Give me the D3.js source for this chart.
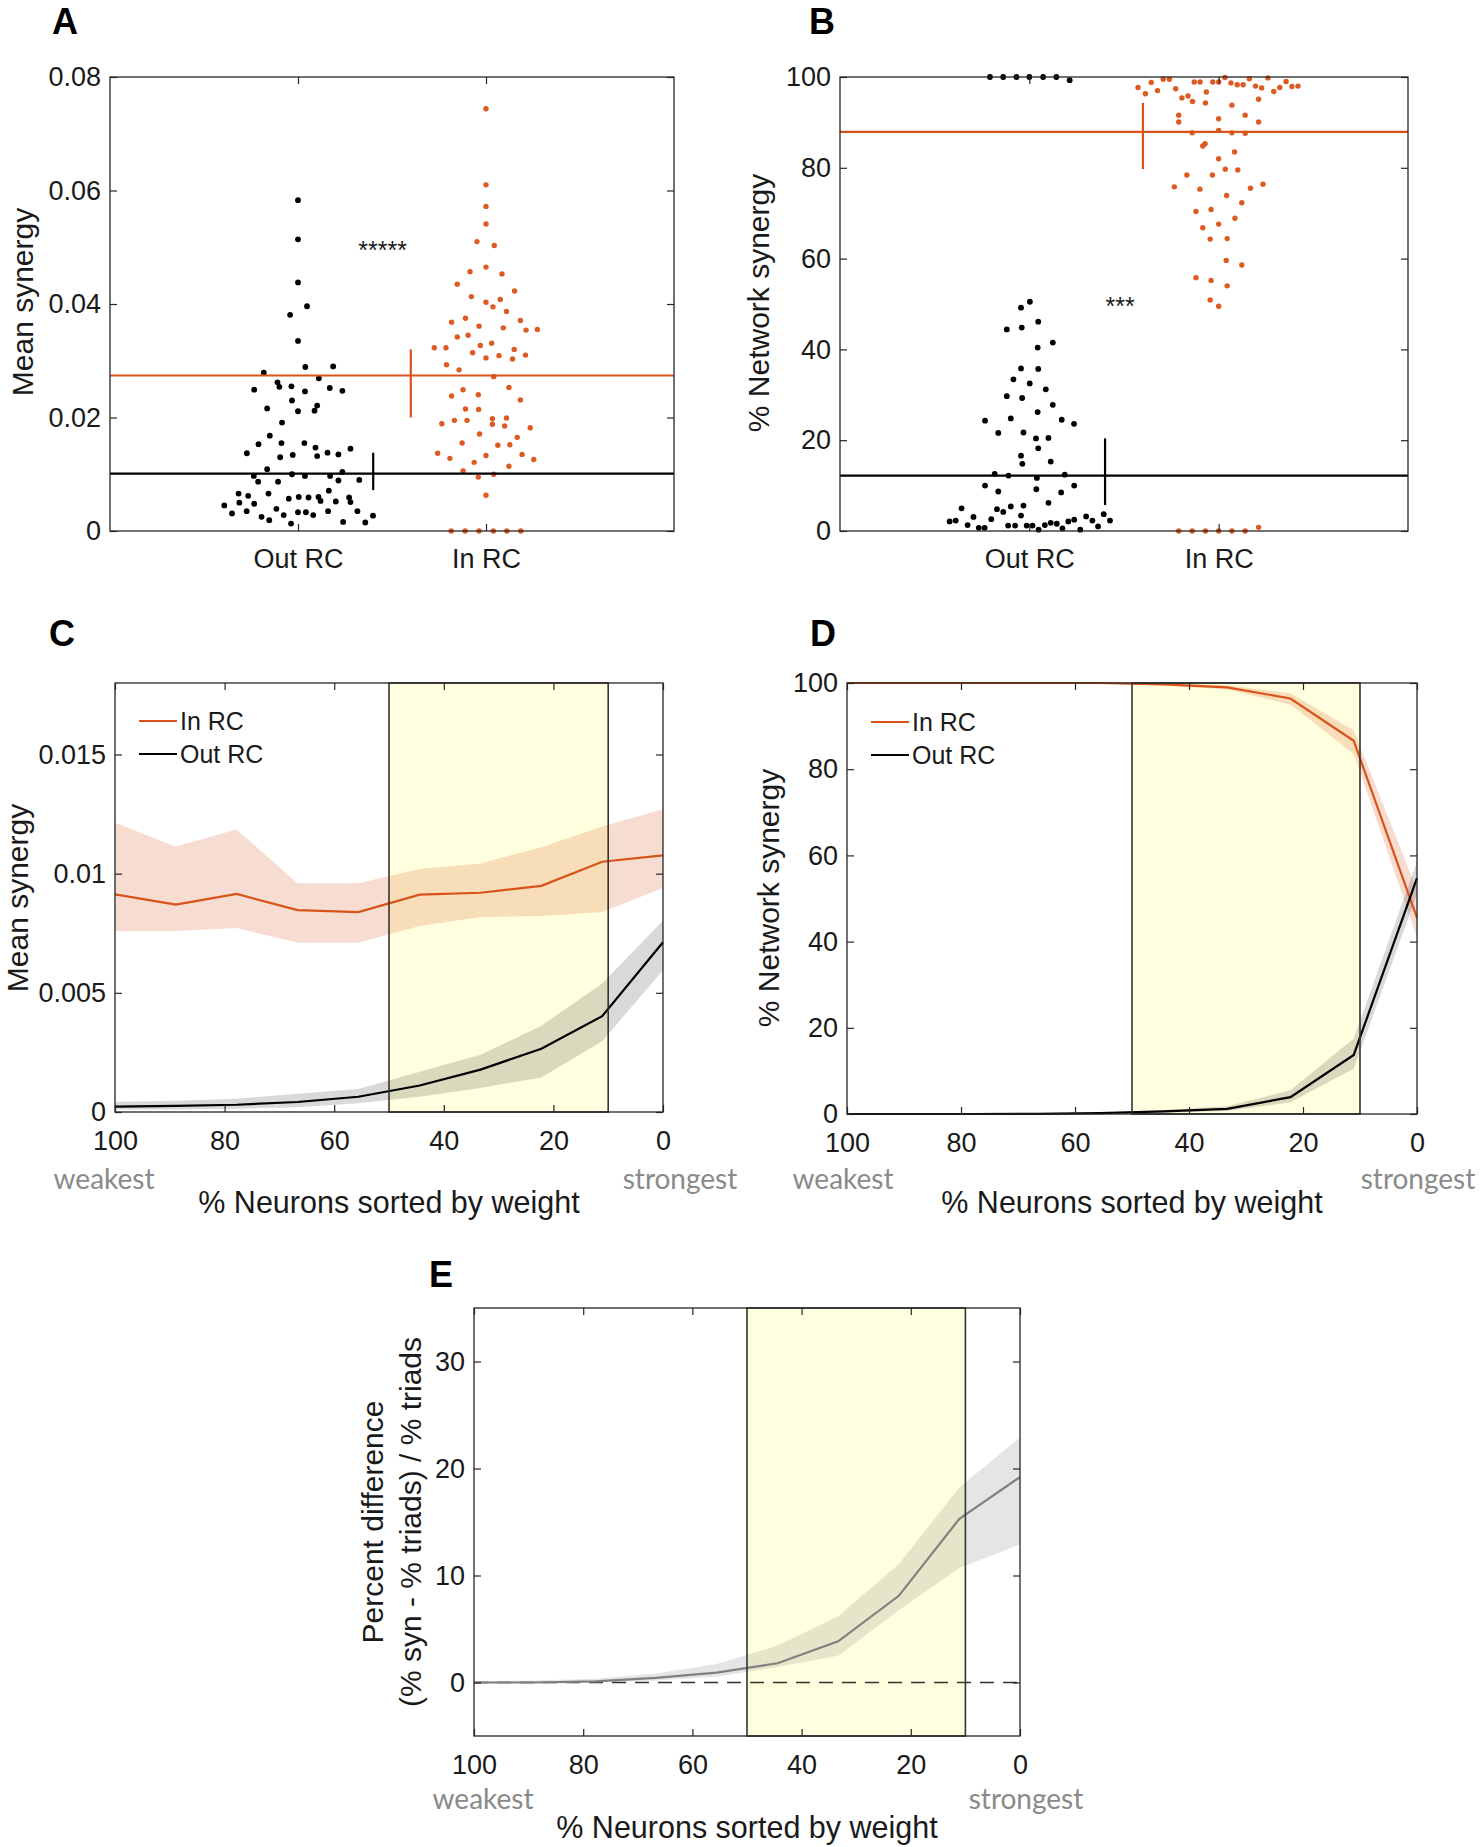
<!DOCTYPE html>
<html><head><meta charset="utf-8">
<script src="https://cdn.jsdelivr.net/npm/d3@7"></script>
<style>
body{margin:0;background:#fff}
svg{display:block}
</style>
</head><body>
<svg id="chart" width="1482" height="1847"></svg>
<script>
// ---------------- DATA ----------------
const catLabels = ["Out RC", "In RC"];
// Panel A: [jitter offset, mean synergy]
const aOut = [[0,0.0583],[0,0.0514],[0,0.0438],[0.048,0.0396],[-0.042,0.0381],[0,0.0335],[0.039,0.0289],[0.187,0.0290],
[-0.182,0.0279],[0.111,0.0269],[-0.109,0.0262],[-0.099,0.0254],[-0.035,0.0255],[-0.233,0.0249],[0.037,0.0246],[0.169,0.0252],
[0.236,0.0247],[-0.032,0.0230],[0.102,0.0221],[-0.164,0.0216],[0.088,0.0212],[0,0.0211],[-0.085,0.0191],[-0.150,0.0168],
[-0.210,0.0153],[-0.088,0.0155],[0.034,0.0155],[0.093,0.0147],[0.279,0.0145],[-0.272,0.0137],[-0.095,0.0130],[-0.028,0.0134],
[0.102,0.0132],[0.157,0.0138],[0.215,0.0135],[-0.164,0.0109],[-0.235,0.0097],[-0.212,0.0087],[-0.106,0.0087],[-0.032,0.0100],
[0.037,0.0097],[0.171,0.0097],[0.236,0.0104],[0.215,0.0089],[0.326,0.0090],[-0.316,0.0066],[-0.265,0.0062],[-0.157,0.0066],
[0.164,0.0071],[-0.312,0.0050],[-0.233,0.0048],[-0.049,0.0057],[0.004,0.0060],[0.056,0.0059],[0.109,0.0060],[0.120,0.0053],
[0.201,0.0052],[0.272,0.0059],[0.279,0.0051],[-0.392,0.0045],[-0.351,0.0031],[-0.273,0.0035],[-0.115,0.0039],[0,0.0033],
[0.042,0.0033],[0.081,0.0028],[0.160,0.0035],[0.316,0.0035],[-0.194,0.0025],[-0.153,0.0019],[-0.076,0.0028],[-0.037,0.0013],
[0.240,0.0016],[0.358,0.0015],[0.399,0.0027]];
const aIn = [[0,0.0744],[0,0.0610],[0,0.0572],[0,0.0541],[-0.048,0.0510],[0.044,0.0503],[0,0.0465],[-0.085,0.0457],[0.085,0.0453],
[-0.153,0.0435],[0.152,0.0423],[-0.078,0.0413],[0,0.0403],[0.076,0.0408],[0.037,0.0395],[0.109,0.0387],[-0.109,0.0375],
[-0.183,0.0368],[-0.037,0.0361],[0.183,0.0371],[0.092,0.0358],[0.213,0.0354],[0.273,0.0355],[-0.153,0.0342],[-0.095,0.0345],
[-0.030,0.0327],[0.030,0.0331],[-0.275,0.0323],[-0.213,0.0323],[-0.071,0.0314],[0,0.0305],[0.069,0.0309],[0.141,0.0303],
[0.150,0.0320],[0.210,0.0310],[-0.210,0.0293],[-0.143,0.0284],[0.041,0.0272],[-0.122,0.0249],[-0.041,0.0240],[0.122,0.0253],
[-0.183,0.0238],[0.183,0.0231],[-0.109,0.0215],[-0.039,0.0214],[-0.235,0.0189],[-0.168,0.0195],[-0.101,0.0195],[0.034,0.0198],
[0.034,0.0188],[0.099,0.0185],[0.109,0.0199],[0.235,0.0182],[-0.034,0.0171],[0.166,0.0165],[-0.127,0.0155],[0.063,0.0151],
[0.127,0.0152],[-0.257,0.0137],[-0.192,0.0128],[0,0.0133],[0.192,0.0135],[0.254,0.0126],[-0.063,0.0121],[0.122,0.0114],
[-0.122,0.0106],[-0.041,0.0095],[0.041,0.0100],[0,0.0063],
[-0.185,0],[-0.111,0],[-0.037,0],[0.039,0],[0.111,0],[0.185,0]];
const aMean = [0.0101, 0.0274];
const aErrLo = [0.0072, 0.0200];
const aErrHi = [0.0138, 0.0320];
const aErrX = [1.40, 1.60];
const aSig = {x: 1.45, y: 0.0504, text: "*****"};

// Panel B: [jitter offset, % network synergy]
const bOut = [[-0.208,100],[-0.138,100],[-0.068,100],[0,100],[0.073,100],[0.143,100],[0.213,99.3],
[0.003,50.5],[-0.044,49.2],[0.047,46.1],[-0.119,44.4],[-0.040,44.8],[0.124,41.5],[0.044,40.4],[-0.044,35.8],[0.047,35.7],
[-0.084,33.4],[0.002,32.5],[0.087,31.2],[-0.119,29.7],[-0.038,29.3],[0.124,27.8],[0.044,26.2],[-0.234,24.3],[-0.098,24.8],
[0.171,24.5],[0.236,23.6],[-0.164,21.6],[-0.031,21.7],[0.035,20.4],[0.101,20.5],[0.047,18.2],[-0.044,16.6],[-0.037,14.8],
[0.113,15.3],[-0.183,12.6],[-0.110,12.2],[0.040,11.7],[0.187,12.4],[-0.234,10.0],[-0.164,8.7],[0.037,9.2],[0.168,8.5],
[0.237,10.0],[0.101,6.2],[-0.358,5.0],[-0.171,4.8],[-0.138,4.2],[-0.098,5.4],[-0.031,5.6],[-0.295,3.1],[-0.201,2.6],
[-0.044,3.4],[0.300,3.2],[0.333,2.3],[0.393,3.7],[0.426,2.3],[-0.421,2.1],[-0.389,2.3],[-0.326,1.3],[-0.267,0.7],
[-0.236,0.7],[-0.112,1.2],[-0.075,1.2],[-0.014,1.2],[0.017,1.2],[0.049,0.3],[0.082,1.3],[0.113,1.8],[0.145,1.6],
[0.175,0.6],[0.206,2.1],[0.237,2.5],[0.269,0.3],[0.363,1.0]];
const bIn = [[-0.426,97.7],[-0.387,96.3],[-0.356,98.8],[-0.323,97.0],[-0.293,99.5],[-0.260,99.5],[-0.227,97.4],[-0.129,98.9],
[-0.098,98.9],[-0.065,96.7],[-0.031,98.9],[0,98.9],[0.033,99.9],[0.065,98.7],[0.098,98.3],[0.129,98.3],[0.162,99.6],
[0.195,98.0],[0.227,97.6],[0.260,99.8],[0.291,96.8],[0.323,97.7],[0.356,99.0],[0.387,97.9],[0.419,98.0],[-0.194,95.4],
[-0.162,95.8],[-0.138,94.6],[-0.070,94.3],[0.070,93.8],[0.211,95.1],[-0.211,91.6],[-0.211,90.1],[0,90.8],[0.140,91.6],
[0.211,90.1],[-0.140,87.7],[0,88.2],[0.070,87.7],[0.140,87.6],[-0.084,84.8],[-0.072,85.3],[0.084,83.5],[0,82.0],
[0.035,79.7],[0.101,79.5],[-0.168,78.4],[-0.033,78.4],[-0.234,75.8],[-0.099,75.3],[0.168,75.5],[0.234,76.4],[0.042,73.9],
[0.122,72.3],[-0.120,70.4],[-0.040,70.8],[0.086,68.9],[0,67.6],[-0.084,66.8],[-0.045,64.3],[0.045,64.4],[0.040,59.6],
[0.122,58.6],[-0.120,55.8],[-0.040,55.2],[0.045,54.0],[-0.045,50.9],[0,49.5],
[-0.211,0],[-0.140,0],[-0.070,0],[0,0],[0.070,0],[0.140,0],[0.211,0.8]];
const bMean = [12.2, 87.9];
const bErrLo = [5.7, 79.7];
const bErrHi = [20.4, 94.3];
const bErrX = [1.40, 1.60];
const bSig = {x: 1.48, y: 50.6, text: "***"};

// Panels C-E: % neurons sorted by weight
const pct = [100, 88.9, 77.8, 66.7, 55.6, 44.4, 33.3, 22.2, 11.1, 0];
const cIn    = [0.00913,0.00870,0.00915,0.00847,0.00839,0.00912,0.00920,0.00949,0.01050,0.01077];
const cInLo  = [0.00759,0.00759,0.00772,0.00710,0.00710,0.00780,0.00818,0.00822,0.00839,0.00940];
const cInHi  = [0.01214,0.01114,0.01185,0.00960,0.00960,0.01020,0.01043,0.01111,0.01198,0.01270];
const cOut   = [0.000225,0.000257,0.000305,0.00042,0.00064,0.00111,0.00178,0.00265,0.00402,0.00712];
const cOutLo = [0.00010,0.00010,0.00014,0.00020,0.00037,0.00064,0.00101,0.00145,0.00297,0.00595];
const cOutHi = [0.00043,0.00047,0.00056,0.00077,0.00096,0.00169,0.00240,0.00362,0.00539,0.00804];

const dIn    = [100,100,100,100,100,99.7,99.0,96.4,86.6,45.5];
const dInLo  = [100,100,100,100,99.9,99.4,98.5,95.0,83.5,41.0];
const dInHi  = [100,100,100,100,100,100,99.5,97.6,89.0,52.0];
const dOut   = [0,0,0,0.05,0.2,0.6,1.2,3.9,13.7,54.7];
const dOutLo = [0,0,0,0,0.05,0.3,0.7,2.7,10.5,51.0];
const dOutHi = [0.05,0.05,0.1,0.15,0.35,0.9,1.8,5.5,17.5,58.5];

const eDiff = [0,0,0.1,0.43,0.93,1.8,3.85,8.1,15.3,19.2];
const eLo   = [-0.07,-0.07,0,0.18,0.54,1.44,2.5,6.75,10.7,12.9];
const eHi   = [0.14,0.18,0.36,0.83,1.72,3.45,6.2,11.07,18.25,22.9];

const highlight = [50, 10];
const xTicksPct = [100, 80, 60, 40, 20, 0];
const yTicksA = [0, 0.02, 0.04, 0.06, 0.08];
const yTicksB = [0, 20, 40, 60, 80, 100];
const yTicksC = [0, 0.005, 0.01, 0.015];
const yTicksD = [0, 20, 40, 60, 80, 100];
const yTicksE = [0, 10, 20, 30];
const legendLabels = ["In RC", "Out RC"];

// ---------------- STYLE ----------------
const ORANGE = "#d95319";
const AX = "#262626";
const SANS = "'Liberation Sans', Arial, sans-serif";
const HUM = "Lato, 'Open Sans', sans-serif";
const svg = d3.select("#chart");

function axes(box, x, y, xt, xfmt, yt, xpad) {
  const g = svg.append("g");
  const left = d3.axisLeft(y).tickValues(yt).tickFormat(d => String(d)).tickSize(-7).tickPadding(9);
  const right = d3.axisRight(y).tickValues(yt).tickFormat("").tickSize(-7);
  const bottom = d3.axisBottom(x).tickValues(xt).tickFormat(xfmt).tickSize(-7).tickPadding(xpad);
  const top = d3.axisTop(x).tickValues(xt).tickFormat("").tickSize(-7);
  g.append("g").attr("transform", `translate(${box.L},0)`).call(left);
  g.append("g").attr("transform", `translate(${box.R},0)`).call(right);
  g.append("g").attr("transform", `translate(0,${box.B})`).call(bottom);
  g.append("g").attr("transform", `translate(0,${box.T})`).call(top);
  g.selectAll(".domain").remove();
  g.selectAll(".tick line").attr("stroke", AX).attr("stroke-width", 1.2);
  g.selectAll(".tick text").attr("font-size", 27).attr("font-family", SANS).attr("fill", "#1a1a1a");
  g.append("rect").attr("x", box.L).attr("y", box.T).attr("width", box.R - box.L).attr("height", box.B - box.T)
    .attr("fill", "none").attr("stroke", AX).attr("stroke-width", 1.3);
}
function yLabel(cx, cy, text, size) {
  svg.append("text").attr("transform", `translate(${cx},${cy}) rotate(-90)`).attr("text-anchor", "middle")
    .attr("dy", "0.35em").attr("font-size", size || 30).attr("font-family", SANS).attr("fill", "#1a1a1a").text(text);
}
function letter(x, y, t) {
  svg.append("text").attr("x", x).attr("y", y).attr("text-anchor", "middle").attr("font-size", 36)
    .attr("font-weight", "bold").attr("font-family", SANS).attr("fill", "#000").text(t);
}
function xLabelPct(box, base, wbase, wOff, sOff) {
  svg.append("text").attr("x", (box.L + box.R) / 2).attr("y", base).attr("text-anchor", "middle")
    .attr("font-size", 30.5).attr("font-family", SANS).attr("fill", "#1a1a1a").text("% Neurons sorted by weight");
  svg.append("text").attr("x", box.L + wOff).attr("y", wbase).attr("text-anchor", "middle")
    .attr("font-size", 28).attr("font-family", HUM).attr("fill", "#8a8a8a").text("weakest");
  svg.append("text").attr("x", box.R + sOff).attr("y", wbase).attr("text-anchor", "middle")
    .attr("font-size", 28).attr("font-family", HUM).attr("fill", "#8a8a8a").text("strongest");
}

// ---------------- SCATTER PANELS (A, B) ----------------
function scatterPanel(box, yDom, yt, outPts, inPts, mean, lo, hi, errX, sig) {
  const x = d3.scaleLinear().domain([0, 3]).range([box.L, box.R]);
  const y = d3.scaleLinear().domain(yDom).range([box.B, box.T]);
  const g = svg.append("g");
  g.selectAll("circle.o").data(outPts).join("circle").attr("cx", d => x(1 + d[0])).attr("cy", d => y(d[1]))
    .attr("r", 2.9).attr("fill", "#000");
  g.selectAll("circle.i").data(inPts).join("circle").attr("cx", d => x(2 + d[0])).attr("cy", d => y(d[1]))
    .attr("r", 2.7).attr("fill", "#dd5a22");
  const cols = ["#000", ORANGE];
  [0, 1].forEach(i => {
    g.append("line").attr("x1", box.L).attr("x2", box.R).attr("y1", y(mean[i])).attr("y2", y(mean[i]))
      .attr("stroke", cols[i]).attr("stroke-width", 2.2);
    g.append("line").attr("x1", x(errX[i])).attr("x2", x(errX[i])).attr("y1", y(lo[i])).attr("y2", y(hi[i]))
      .attr("stroke", cols[i]).attr("stroke-width", 2.2);
  });
  g.append("text").attr("x", x(sig.x)).attr("y", y(sig.y) + 14).attr("text-anchor", "middle")
    .attr("font-size", 25).attr("font-family", SANS).attr("fill", "#1a1a1a").text(sig.text);
  axes(box, x, y, [1, 2], (d, i) => catLabels[i], yt, 18);
}
const boxA = {L: 110, R: 674, T: 77, B: 531};
const boxB = {L: 840, R: 1408, T: 77, B: 531};
scatterPanel(boxA, [0, 0.08], yTicksA, aOut, aIn, aMean, aErrLo, aErrHi, aErrX, aSig);
scatterPanel(boxB, [0, 100], yTicksB, bOut, bIn, bMean, bErrLo, bErrHi, bErrX, bSig);
yLabel(22, 302, "Mean synergy");
yLabel(758, 303, "% Network synergy");
letter(65, 34, "A");
letter(822, 34, "B");

// ---------------- LINE PANELS (C, D, E) ----------------
function linePanel(box, yDom, series) {
  const x = d3.scaleLinear().domain([100, 0]).range([box.L, box.R]);
  const y = d3.scaleLinear().domain(yDom).range([box.B, box.T]);
  const g = svg.append("g");
  g.append("rect").attr("x", x(highlight[0])).attr("y", box.T).attr("width", x(highlight[1]) - x(highlight[0]))
    .attr("height", box.B - box.T).attr("fill", "#ffffe0");
  series.forEach(s => {
    const area = d3.area().x((d, i) => x(pct[i])).y0((d, i) => y(s.lo[i])).y1((d, i) => y(s.hi[i]));
    g.append("path").datum(s.mean).attr("d", area).attr("fill", s.band);
  });
  return {x, y, g};
}
function finishLines(p, box, series, yt, xpad) {
  series.forEach(s => {
    const line = d3.line().x((d, i) => p.x(pct[i])).y(d => p.y(d));
    p.g.append("path").datum(s.mean).attr("d", line).attr("fill", "none").attr("stroke", s.color).attr("stroke-width", 2.2);
  });
  p.g.append("rect").attr("x", p.x(highlight[0])).attr("y", box.T).attr("width", p.x(highlight[1]) - p.x(highlight[0]))
    .attr("height", box.B - box.T).attr("fill", "none").attr("stroke", "#333").attr("stroke-width", 1.6);
  axes(box, p.x, p.y, xTicksPct, d => String(d), yt, xpad);
}
function legendBlock(x0, y0) {
  const cols = [ORANGE, "#000"];
  legendLabels.forEach((t, i) => {
    const yy = y0 + i * 33;
    svg.append("line").attr("x1", x0).attr("x2", x0 + 38).attr("y1", yy).attr("y2", yy).attr("stroke", cols[i]).attr("stroke-width", 2.2);
    svg.append("text").attr("x", x0 + 41).attr("y", yy + 9).attr("font-size", 25).attr("font-family", SANS)
      .attr("fill", "#1a1a1a").text(t);
  });
}

// C
const boxC = {L: 115, R: 663, T: 683, B: 1112};
const serC = [
  {mean: cIn, lo: cInLo, hi: cInHi, color: ORANGE, band: "rgba(217,83,25,0.2)"},
  {mean: cOut, lo: cOutLo, hi: cOutHi, color: "#000", band: "rgba(0,0,0,0.15)"}];
const pC = linePanel(boxC, [0, 0.018], serC);
finishLines(pC, boxC, serC, yTicksC, 19);
legendBlock(139, 721);
yLabel(17, 898, "Mean synergy");
xLabelPct(boxC, 1213, 1189, -11, 17);
letter(62, 646, "C");

// D
const boxD = {L: 847, R: 1417, T: 683, B: 1114};
const serD = [
  {mean: dIn, lo: dInLo, hi: dInHi, color: ORANGE, band: "rgba(217,83,25,0.2)"},
  {mean: dOut, lo: dOutLo, hi: dOutHi, color: "#000", band: "rgba(0,0,0,0.15)"}];
const pD = linePanel(boxD, [0, 100], serD);
finishLines(pD, boxD, serD, yTicksD, 19);
legendBlock(871, 722);
yLabel(768, 898, "% Network synergy");
xLabelPct(boxD, 1213, 1189, -4, 1);
letter(823, 646, "D");

// E
const boxE = {L: 474, R: 1020, T: 1308, B: 1736};
const serE = [{mean: eDiff, lo: eLo, hi: eHi, color: "#808080", band: "rgba(0,0,0,0.1)"}];
const pE = linePanel(boxE, [-5, 35], serE);
pE.g.append("line").attr("x1", boxE.L).attr("x2", boxE.R).attr("y1", pE.y(0)).attr("y2", pE.y(0))
  .attr("stroke", "#333").attr("stroke-width", 1.6).attr("stroke-dasharray", "14,9");
finishLines(pE, boxE, serE, yTicksE, 19);
yLabel(372, 1522, "Percent difference");
yLabel(410, 1522, "(% syn - % triads) / % triads");
xLabelPct(boxE, 1838, 1809, 9, 6);
letter(441, 1287, "E");
</script>
</body></html>
